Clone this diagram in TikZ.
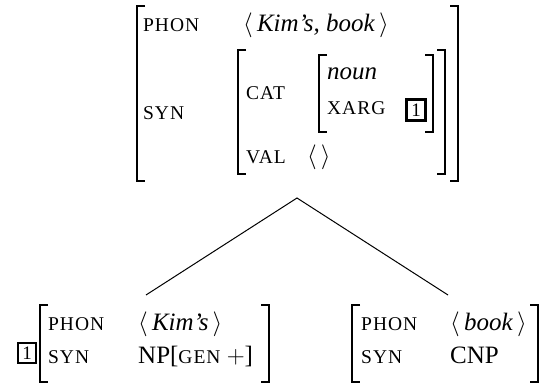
\documentclass[tikz,border=0pt]{standalone}
\usepackage{fontspec}
\setmainfont{Liberation Serif}
\newfontfamily\lblfont[LetterSpace=5]{Liberation Serif}
\newcommand\lbl[1]{{\lblfont\fontsize{19.5}{22}\selectfont #1}}
\newcommand\lbrk[3]{\draw[brk] (#1+8,#2) -- (#1,#2) -- (#1,#3) -- (#1+8,#3);}
\newcommand\rbrk[3]{\draw[brk] (#1-8,#2) -- (#1,#2) -- (#1,#3) -- (#1-8,#3);}
\begin{document}
\begin{tikzpicture}[x=1pt,y=-1pt,
  txt/.style={anchor=base west,inner sep=0pt,font=\fontsize{25}{29}\selectfont},
  brk/.style={line width=1.4pt},
  tag/.style={draw,line width=2.2pt,inner sep=0pt,minimum width=18pt,minimum height=20pt,font=\fontsize{19}{21}\selectfont},
  branch/.style={line width=1pt}]
\useasboundingbox (0,0) rectangle (546,385);
% ---- top AVM ----
\lbrk{137}{6}{181}
\rbrk{458}{6}{181}
\node[txt] (tphon) at (143,32) {\lbl{PHON}};
\node[txt] (tphonv) at (243,32) {$\langle$\,\textit{Kim's, book}\,$\rangle$};
\node[txt] (tsyn) at (143,120) {\lbl{SYN}};
\lbrk{238}{50}{174}
\rbrk{445}{50}{174}
\node[txt] (tcat) at (246,100) {\lbl{CAT}};
\lbrk{319}{55}{132}
\rbrk{433}{55}{132}
\node[txt] (tnoun) at (327,80) {\textit{noun}};
\node[txt] (txarg) at (327,115) {\lbl{XARG}};
\node[tag,minimum width=19pt,minimum height=21pt] (tbox) at (416,110) {1};
\node[txt] (tval) at (246,163) {\lbl{VAL}};
\node[txt] (tvalv) at (307,163) {$\langle\,\rangle$};
% ---- tree ----
\coordinate (apex) at (297,198);
\coordinate (lft) at (146,295);
\coordinate (rgt) at (448,295);
\draw[branch] (lft) -- (apex) -- (rgt);
% ---- bottom left ----
\node[tag] (lbox) at (27,353) {1};
\lbrk{40}{305}{382}
\rbrk{269}{305}{382}
\node[txt] (lphon) at (48,330) {\lbl{PHON}};
\node[txt] (lphonv) at (138,330) {$\langle$\,\textit{Kim's}\,$\rangle$};
\node[txt] (lsyn) at (48,363) {\lbl{SYN}};
\node[txt] (lsynv) at (138,363) {NP[\lbl{GEN}\ $+$]};
% ---- bottom right ----
\lbrk{352}{305}{382}
\rbrk{538}{305}{382}
\node[txt] (rphon) at (361,330) {\lbl{PHON}};
\node[txt] (rphonv) at (450,330) {$\langle$\,\textit{book}\,$\rangle$};
\node[txt] (rsyn) at (361,363) {\lbl{SYN}};
\node[txt] (rsynv) at (450,363) {CNP};
\end{tikzpicture}
\end{document}
